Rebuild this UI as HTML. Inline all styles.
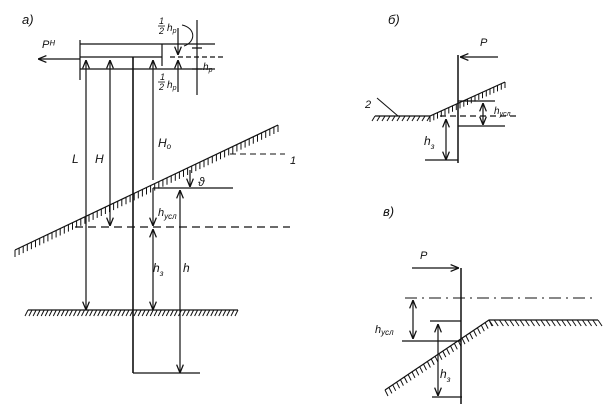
<!DOCTYPE html>
<html><head><meta charset="utf-8"><style>
html,body{margin:0;padding:0;background:#fff;}
svg{display:block;}
text{font-family:"Liberation Sans",sans-serif;font-style:italic;fill:#111;}
</style></head><body>
<svg id="s" width="604" height="414" viewBox="0 0 604 414" xmlns="http://www.w3.org/2000/svg" stroke="#111" stroke-width="1.2" fill="none">
<defs><marker id="a" viewBox="0 0 10 10" refX="10" refY="5" markerWidth="7" markerHeight="7" orient="auto-start-reverse"><path d="M0,1 L10,5 L0,9" fill="none" stroke="#111" stroke-width="1.5"/></marker></defs>
<!-- panel a -->
<text x="22" y="24" font-size="13" stroke="none">а)</text>
<path d="M80,40 V80 M80,44 H215 M80,69 H215 M80,57 H162 M162,44 V66"/>
<path d="M170,57 H225" stroke-dasharray="5,3"/>
<line x1="80" y1="59" x2="38" y2="59" marker-end="url(#a)"/>
<text x="42" y="48" font-size="11" stroke="none">Pᴴ</text>
<line x1="86" y1="60" x2="86" y2="310" marker-end="url(#a)" marker-start="url(#a)"/>
<line x1="110" y1="60" x2="110" y2="226" marker-end="url(#a)" marker-start="url(#a)"/>
<line x1="133" y1="57" x2="133" y2="373" stroke-width="1.6"/>
<line x1="153" y1="60" x2="153" y2="180" marker-start="url(#a)"/>
<line x1="153" y1="188" x2="153" y2="226" marker-end="url(#a)"/>
<line x1="153" y1="229" x2="153" y2="310" marker-end="url(#a)" marker-start="url(#a)"/>
<line x1="180" y1="190" x2="180" y2="373" marker-end="url(#a)" marker-start="url(#a)"/>
<path d="M133,373 H200 M153,188 H233"/>
<line x1="190" y1="170" x2="190" y2="187" marker-end="url(#a)"/>
<line x1="178" y1="28" x2="178" y2="55" marker-end="url(#a)"/>
<line x1="178" y1="92" x2="178" y2="60" marker-end="url(#a)"/>
<path d="M197,20 V95 M192,48 H202 M192,69 H202"/>
<path d="M182,25 C196,28 196,42 184,46" stroke-width="1"/>
<text x="159" y="24" font-size="9" stroke="none">1</text><text x="159" y="34" font-size="9" stroke="none">2</text>
<path d="M158,26 H165" stroke-width="0.8"/>
<text x="167" y="31" font-size="10" stroke="none">h<tspan font-size="7" dy="2">p</tspan></text>
<text x="160" y="80" font-size="9" stroke="none">1</text><text x="159" y="90" font-size="9" stroke="none">2</text>
<path d="M158,82 H165" stroke-width="0.8"/>
<text x="167" y="88" font-size="10" stroke="none">h<tspan font-size="7" dy="2">p</tspan></text>
<text x="203" y="70" font-size="10" stroke="none">h<tspan font-size="7" dy="2">p</tspan></text>
<text x="72" y="163" font-size="12" stroke="none">L</text>
<text x="95" y="163" font-size="12" stroke="none">H</text>
<text x="158" y="147" font-size="12" stroke="none">H<tspan font-size="8" dy="2">o</tspan></text>
<text x="198" y="186" font-size="12" stroke="none">ϑ</text>
<text x="290" y="164" font-size="11" stroke="none">1</text>
<path d="M230,154 H285" stroke-dasharray="6,4" stroke-width="0.9"/>
<line x1="15" y1="250" x2="278" y2="125"/>
<g id="h1"></g>
<path d="M75,227 H290" stroke-dasharray="8,5"/>
<text x="158" y="216" font-size="11" stroke="none">h<tspan font-size="8" dy="3">усл</tspan></text>
<text x="153" y="272" font-size="12" stroke="none">h<tspan font-size="8" dy="4">з</tspan></text>
<text x="183" y="272" font-size="12" stroke="none">h</text>
<line x1="28" y1="310" x2="238" y2="310"/>
<!-- panel б -->
<text x="388" y="24" font-size="13" stroke="none">б)</text>
<line x1="458" y1="55" x2="458" y2="163" stroke-width="1.5"/>
<line x1="498" y1="57" x2="460" y2="57" marker-end="url(#a)"/>
<text x="480" y="46" font-size="11" stroke="none">P</text>
<path d="M375,116 H430 L505,82"/>
<text x="365" y="108" font-size="11" stroke="none">2</text>
<path d="M377,98 L398,116" stroke-width="1"/>
<path d="M440,116 H520" stroke-dasharray="6,4"/>
<path d="M458,126 H505 M458,101 H495"/>
<line x1="483" y1="103" x2="483" y2="125" marker-end="url(#a)" marker-start="url(#a)"/>
<text x="494" y="114" font-size="10" stroke="none">h<tspan font-size="7" dy="2">усл</tspan></text>
<line x1="446" y1="119" x2="446" y2="160" marker-end="url(#a)" marker-start="url(#a)"/>
<path d="M425,160 H458"/>
<text x="424" y="145" font-size="12" stroke="none">h<tspan font-size="8" dy="4">з</tspan></text>
<!-- panel в -->
<text x="383" y="216" font-size="13" stroke="none">в)</text>
<line x1="461" y1="268" x2="461" y2="404" stroke-width="1.5"/>
<line x1="412" y1="268" x2="459" y2="268" marker-end="url(#a)"/>
<text x="420" y="259" font-size="11" stroke="none">P</text>
<path d="M405,298 H595" stroke-dasharray="12,5,2,5" stroke-width="0.9"/>
<path d="M598,320 H489 L385,390"/>
<path d="M430,321 H461 M402,341 H461 M432,397 H462"/>
<line x1="413" y1="300" x2="413" y2="339" marker-end="url(#a)" marker-start="url(#a)"/>
<text x="375" y="333" font-size="11" stroke="none">h<tspan font-size="8" dy="2">усл</tspan></text>
<line x1="438" y1="324" x2="438" y2="396" marker-end="url(#a)" marker-start="url(#a)"/>
<text x="440" y="378" font-size="12" stroke="none">h<tspan font-size="8" dy="4">з</tspan></text>
<g id="hat" stroke-width="1"></g>
</svg>
<script>
var g=document.getElementById('hat'),s='';
function hatch(x1,y1,x2,y2,step,dx,dy){var L=Math.hypot(x2-x1,y2-y1),n=Math.floor(L/step);for(var i=0;i<=n;i++){var t=i/n,x=x1+(x2-x1)*t,y=y1+(y2-y1)*t;s+='<line x1="'+x.toFixed(1)+'" y1="'+y.toFixed(1)+'" x2="'+(x+dx).toFixed(1)+'" y2="'+(y+dy).toFixed(1)+'"/>';}}
hatch(15,250,278,125,4.5,0,7);
hatch(28,310,238,310,4,-3,6);
hatch(375,116,430,116,5,-3,5);
hatch(430,116,505,82,4,0,6);
hatch(489,320,598,320,5,4,6);
hatch(385,390,489,320,4.5,3,6);
g.innerHTML=s;
</script>
</body></html>
